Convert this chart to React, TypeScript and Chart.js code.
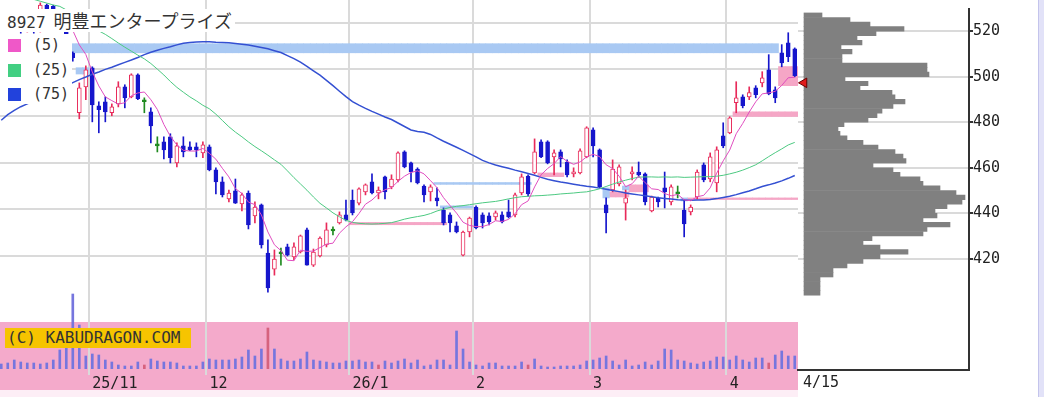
import React, { useEffect, useRef } from "react";
import { Chart, registerables } from "chart.js";

Chart.register(...registerables);

// ---------- data ----------
const tradingDays: number[][] = [
  [14, 15, 16, 17, 20, 21, 22, 23, 24, 27, 28, 29, 30, 31],
  [4, 5, 6, 7, 10, 11, 12, 13, 14, 17, 18, 19, 20, 21, 25, 26, 27, 28],
  [1, 2, 3, 4, 5, 8, 9, 10, 11, 12, 15, 16, 17, 18, 19, 22, 23, 24, 25, 26, 29, 30],
  [5, 6, 7, 8, 9, 13, 14, 15, 16, 19, 20, 21, 22, 23, 26, 27, 28, 29, 30],
  [2, 3, 4, 5, 6, 9, 10, 12, 13, 16, 17, 18, 19, 20, 24, 25, 26, 27],
  [2, 3, 4, 5, 6, 9, 10, 11, 12, 13, 16, 17, 18, 19, 23, 24, 25, 26, 27, 30, 31],
  [1, 2, 3, 6, 7, 8, 9, 10, 13, 14, 15],
];
const monthNums = [10, 11, 12, 1, 2, 3, 4];
const monthTickLabels = ["", "25/11", "12", "26/1", "2", "3", "4"];

const opens = [
  522, 520, 524, 521, 517, 522, 516.5, 527.5, 527, 520.5, 522, 507,
  481.4, 492.5, 500.7, 484.4, 486.1, 481.4, 485.2, 492.5, 488.2, 497.7, 486.1, 481.8,
  467.2, 468.9, 471.1, 459.9, 467.2, 466.8, 466.8, 464.2, 466.8, 456.9, 451.8, 444.5,
  447.9, 442.3, 447.0, 437.2, 441.9, 421.3, 414.4, 420.9, 423.9, 419.6, 421.7, 431.2,
  416.1, 420.0, 424.7, 430.7, 434.2, 437.6, 444.0, 442.7, 447.5, 451.8, 447.0, 453.9,
  449.6, 452.6, 464.6, 459.9, 457.3, 450.0, 447.5, 444.9, 439.7, 437.6, 432.9, 420.4,
  430.3, 441.0, 437.6, 437.2, 436.7, 437.6, 438.9, 437.6, 447.0, 454.3, 455.6, 468.9,
  468.9, 462.5, 464.6, 460.3, 455.2, 455.6, 462.5, 474.1, 465.5, 441.9, 448.3, 450.9,
  442.7, 455.2, 456.0, 455.2, 439.3, 444.9, 449.2, 443.2, 446.6, 439.7, 438.9, 445.3,
  459.1, 453.0, 451.3, 471.5, 472.8, 485.7, 488.2, 488.2, 492.1, 494.2, 499.8, 491.2,
  507.1, 511.4, 508.8,
];
const highs = [
  525, 525, 525.5, 524, 523, 524, 528.5, 528, 527.5, 524, 523, 507.5,
  494.2, 501.5, 501.1, 486.1, 488.2, 485.2, 494.7, 493.4, 498.1, 498.1, 487.8, 483.5,
  471.1, 471.1, 472.4, 468.5, 471.1, 468.9, 468.5, 468.9, 467.6, 457.8, 453.9, 448.3,
  453.0, 447.0, 447.9, 443.2, 442.3, 426.9, 422.6, 423.4, 425.1, 425.6, 429.0, 432.0,
  423.0, 428.2, 434.2, 432.5, 438.9, 444.0, 448.3, 449.2, 450.9, 455.2, 449.6, 454.3,
  454.8, 464.6, 465.1, 460.3, 457.8, 450.5, 450.5, 449.2, 440.6, 438.5, 434.6, 430.7,
  436.7, 441.5, 438.5, 438.5, 439.3, 438.9, 444.0, 447.0, 455.2, 454.8, 470.2, 469.8,
  469.4, 465.5, 465.5, 461.2, 457.8, 465.9, 475.4, 474.9, 465.9, 444.9, 461.2, 459.1,
  448.3, 458.2, 460.3, 455.6, 445.7, 445.3, 456.0, 450.5, 450.0, 444.0, 441.9, 456.9,
  459.9, 464.2, 466.8, 477.1, 479.7, 494.7, 489.1, 492.5, 493.0, 499.0, 506.3, 492.5,
  510.6, 515.7, 509.2,
];
const lows = [
  518, 518, 519, 515.5, 516, 515.5, 516, 521, 519.5, 517.5, 511, 503.5,
  478.8, 487.0, 477.5, 472.8, 477.5, 480.1, 483.9, 483.5, 487.8, 487.0, 481.4, 468.5,
  464.6, 461.6, 459.9, 458.2, 462.5, 465.1, 462.5, 462.1, 456.5, 446.6, 445.3, 443.2,
  442.5, 439.3, 431.6, 434.2, 423.4, 404.5, 411.8, 416.1, 420.0, 418.3, 421.3, 416.1,
  415.5, 419.6, 423.9, 429.0, 433.7, 435.0, 437.6, 441.9, 446.2, 446.6, 444.5, 444.5,
  448.8, 451.8, 457.8, 451.8, 450.9, 443.2, 443.6, 441.5, 433.3, 430.3, 429.9, 420.0,
  428.2, 431.6, 432.0, 433.3, 435.4, 434.2, 436.3, 436.7, 446.2, 445.7, 455.2, 462.1,
  459.5, 454.8, 458.2, 453.9, 453.9, 455.2, 462.1, 462.5, 449.2, 429.9, 447.5, 450.0,
  435.4, 452.6, 453.9, 441.9, 438.9, 441.0, 440.6, 441.9, 444.9, 428.2, 437.6, 444.5,
  451.8, 451.8, 447.5, 466.4, 472.4, 481.4, 483.5, 487.0, 487.8, 492.5, 489.1, 485.7,
  501.1, 503.3, 496.8,
];
const closes = [
  520, 524, 521, 517.5, 522, 518, 527.5, 523, 520.5, 522, 513, 505,
  492.1, 499.8, 484.8, 482.7, 481.8, 483.9, 492.5, 487.8, 497.7, 487.4, 486.1, 475.8,
  467.2, 465.5, 462.1, 467.2, 464.6, 465.5, 465.5, 467.6, 456.9, 451.8, 446.2, 447.0,
  442.7, 446.2, 433.3, 441.0, 424.7, 406.3, 418.7, 420.9, 420.4, 423.9, 428.6, 416.1,
  421.7, 427.7, 431.2, 430.7, 437.6, 435.4, 438.5, 448.8, 450.5, 447.0, 448.3, 447.5,
  453.0, 464.2, 458.2, 456.0, 451.3, 446.2, 449.6, 443.6, 434.2, 434.2, 430.3, 430.3,
  436.3, 432.0, 434.2, 434.6, 438.5, 434.6, 436.7, 446.2, 453.9, 446.6, 464.6, 462.5,
  459.9, 464.2, 461.6, 454.8, 456.0, 465.1, 474.9, 467.2, 449.6, 438.5, 457.3, 458.2,
  444.9, 456.0, 454.8, 443.2, 445.3, 443.2, 447.5, 449.6, 446.6, 433.7, 441.0, 456.0,
  452.6, 462.5, 465.5, 467.2, 479.2, 487.8, 484.4, 490.0, 489.1, 496.4, 489.5, 487.8,
  502.8, 505.4, 497.3,
];

const ma5 = [
  520.5, 521.0, 521.5, 521.0, 520.9, 520.5, 521.2, 521.6, 522.2, 522.2, 521.2, 516.7,
  510.5, 506.4, 498.9, 492.9, 488.2, 486.6, 485.1, 485.7, 488.7, 489.9, 490.3, 487.0,
  482.8, 476.4, 471.3, 467.6, 465.3, 465.0, 465.0, 466.1, 464.0, 461.5, 457.6, 453.9,
  448.9, 446.8, 443.1, 442.0, 437.6, 430.3, 424.8, 422.3, 418.2, 418.0, 422.5, 422.0,
  422.1, 423.6, 425.1, 425.5, 429.8, 432.5, 434.7, 438.2, 442.2, 444.0, 446.6, 448.4,
  449.3, 452.0, 454.2, 455.8, 456.5, 455.2, 452.3, 449.3, 445.0, 441.6, 438.4, 434.5,
  433.1, 432.6, 432.6, 433.5, 435.1, 434.8, 435.7, 438.1, 442.0, 443.6, 449.6, 454.8,
  457.5, 459.6, 462.6, 460.6, 459.3, 460.3, 462.5, 463.6, 462.6, 459.1, 457.5, 454.2,
  449.7, 451.0, 454.2, 451.4, 448.8, 448.5, 446.8, 445.8, 446.4, 444.1, 443.7, 445.4,
  446.0, 449.2, 455.5, 460.8, 465.4, 472.4, 476.8, 481.7, 486.1, 489.5, 489.9, 490.6,
  493.1, 496.4, 496.6,
];
const ma25 = [
  533.0, 532.5, 532.0, 531.3, 530.6, 530.0, 529.2, 528.4, 527.6, 527.0, 525.5, 523.8,
  521.8, 519.9, 518.2, 516.5, 515.0, 513.2, 511.3, 509.5, 507.8, 506.1, 504.5, 502.5,
  500.1, 497.6, 494.8, 492.3, 490.2, 488.2, 486.5, 484.6, 483.1, 480.8, 478.1, 475.4,
  473.1, 471.1, 468.9, 466.9, 465.1, 463.2, 461.2, 459.3, 456.5, 453.6, 450.9, 448.2,
  445.3, 442.6, 440.6, 438.5, 436.8, 435.3, 434.4, 434.0, 433.8, 433.7, 433.8, 434.0,
  434.3, 435.0, 435.8, 436.4, 436.9, 437.4, 438.2, 439.3, 440.1, 440.8, 441.3, 441.6,
  442.0, 442.4, 442.8, 443.1, 443.4, 443.9, 444.5, 445.0, 445.4, 445.6, 445.8, 445.9,
  446.1, 446.3, 446.6, 446.8, 447.0, 447.3, 447.5, 448.1, 448.8, 449.8, 450.8, 451.7,
  452.5, 453.2, 453.8, 453.9, 453.9, 453.8, 453.9, 453.8, 453.9, 453.7, 453.8, 453.9,
  454.0, 454.0, 454.2, 454.6, 455.2, 455.9, 456.8, 457.9, 459.1, 460.8, 462.6, 464.3,
  465.9, 467.6, 468.7,
];
const ma75 = [
  478.2, 480.6, 482.4, 484.0, 485.2, 486.4, 487.6, 489.0, 490.4, 491.8, 493.0, 494.3,
  495.6, 496.7, 497.9, 498.9, 500.0, 500.9, 502.0, 503.0, 504.0, 505.1, 506.3, 507.3,
  508.2, 509.0, 509.7, 510.5, 511.2, 511.5, 511.7, 511.8, 511.8, 511.6, 511.5, 511.4,
  511.1, 510.8, 510.4, 509.9, 509.4, 508.8, 508.0, 507.2, 505.9, 504.6, 503.1, 501.3,
  499.4, 497.5, 495.3, 493.0, 490.6, 488.3, 486.2, 484.7, 483.3, 482.0, 480.8, 479.6,
  478.5, 477.0, 475.5, 474.0, 473.4, 473.0, 472.1, 470.6, 469.2, 467.9, 466.6, 465.3,
  463.9, 462.5, 461.0, 459.9, 459.0, 458.3, 457.6, 456.8, 456.1, 455.4, 454.6, 453.7,
  452.9, 452.3, 451.7, 451.3, 450.8, 450.3, 449.9, 449.6, 449.1, 448.6, 448.1, 447.6,
  447.0, 446.6, 446.2, 445.8, 445.4, 445.0, 444.7, 444.4, 444.1, 444.0, 443.9, 444.0,
  444.0, 444.2, 444.6, 445.1, 445.6, 446.3, 447.1, 447.9, 448.8, 449.8, 450.5, 451.3,
  452.2, 453.3, 454.5,
];

const volume = [
  5, 6, 9, 7, 6, 6, 5, 6, 9, 19, 23, 75,
  44, 13, 15, 14, 9, 7, 4, 3, 3, 7, 4, 10,
  8, 7, 7, 6, 3, 3, 3, 7, 10, 9, 9, 9,
  10, 12, 19, 13, 20, 41, 20, 10, 8, 8, 10, 17,
  9, 8, 7, 6, 6, 8, 8, 9, 7, 7, 4, 8,
  6, 8, 10, 6, 9, 3, 4, 9, 9, 4, 38, 20,
  7, 4, 3, 6, 6, 3, 3, 3, 7, 4, 10, 3,
  2, 2, 3, 3, 3, 4, 8, 9, 11, 13, 8, 4,
  9, 3, 4, 7, 4, 8, 20, 19, 9, 8, 6, 5,
  7, 8, 12, 12, 9, 13, 9, 7, 11, 11, 6, 14,
  18, 13, 13,
];
const redVolumeIdx = [22, 41, 58, 81, 118];

const profilePrices = [
  405, 407, 409, 411, 413, 415, 417, 419, 421, 423, 425, 427, 429, 431, 433, 435,
  437, 439, 441, 443, 445, 447, 449, 451, 453, 455, 457, 459, 461, 463, 465, 467,
  469, 471, 473, 475, 477, 479, 481, 483, 485, 487, 489, 491, 493, 495, 497, 499,
  501, 503, 505, 507, 509, 511, 513, 515, 517, 519, 521, 523, 525, 527,
];
const profileVolume = [
  16, 16, 16, 16, 29, 29, 43, 59, 76, 104, 76, 59, 68, 119, 123, 146,
  119, 133, 131, 143, 158, 161, 152, 136, 119, 116, 96, 89, 69, 102, 99, 91,
  74, 59, 43, 36, 34, 40, 64, 73, 78, 89, 101, 91, 88, 56, 64, 41,
  125, 123, 123, 38, 38, 48, 37, 58, 53, 72, 100, 66, 46, 18,
];

const yTicks = [420, 440, 460, 480, 500, 520];

// price gaps (窓)
const gapLo = [507.1, 498.0, 433.4, 450.7, 440.6, 454.0, 444.9, 445.3, 448.3, 447.5, 443.6, 444.2, 479.8, 493.0];
const gapHi = [511.0, 500.7, 434.4, 451.5, 441.5, 455.6, 449.2, 447.5, 450.0, 450.5, 444.9, 444.9, 481.8, 501.2];
const gapFrom = [11, 12, 54, 67, 68, 83, 93, 94, 96, 97, 105, 106, 113, 120];
const gapTo = [119, 13, 68, 81, 72, 86, 93, 96, 96, 99, 105, 122, 122, 122];
const gapUp = [false, false, true, false, false, true, false, true, false, true, false, true, true, true];

// ---------- derived ----------
const labels: string[] = [];
const tickText: string[] = [];
const monthStart = new Set<number>();
tradingDays.forEach((days, m) =>
  days.forEach((d, k) => {
    if (k === 0 && monthTickLabels[m]) {
      monthStart.add(labels.length);
      tickText.push(monthTickLabels[m]);
    } else tickText.push("");
    labels.push(`${monthNums[m]}/${d}`);
  })
);

const PRICE_MAX = 529.73;
const PRICE_MIN = 371.14;
const GRID = "#dadada";
const RED = "#e82a5a";
const BLUE = "#1616cc";
const GREEN = "#1f8a1f";
const MONO = "'DejaVu Sans Mono', monospace";

const candleColor = opens.map((o, i) => (closes[i] > o ? RED : closes[i] < o ? BLUE : GREEN));
const bodyFill = opens.map((o, i) => (closes[i] > o ? "#ffffff" : candleColor[i]));

export default function App() {
  const mainRef = useRef<HTMLCanvasElement>(null);
  const volRef = useRef<HTMLCanvasElement>(null);
  const profRef = useRef<HTMLCanvasElement>(null);

  useEffect(() => {
    Chart.defaults.font.family = MONO;
    const charts: any[] = [];
    const monthGrid = (c: any) => (monthStart.has(c.index) ? GRID : "rgba(0,0,0,0)");

    const bandSets = gapLo.map((lo, g) => ({
      type: "bar",
      data: labels.map((_, i) => (i >= gapFrom[g] && i <= gapTo[g] ? [lo, gapHi[g]] : null)),
      backgroundColor: gapUp[g] ? "#f5a6c6" : "#a9c9f3",
      barPercentage: 1,
      categoryPercentage: 1,
      grouped: false,
      order: 10,
    }));

    charts.push(
      new Chart(mainRef.current as any, {
        type: "bar",
        data: {
          labels,
          datasets: [
            ...bandSets,
            { type: "line", label: "(5)", data: ma5, borderColor: "#e04ec0", borderWidth: 1, pointRadius: 0, tension: 0, order: 1 },
            { type: "line", label: "(25)", data: ma25, borderColor: "#4cc981", borderWidth: 1, pointRadius: 0, tension: 0, order: 1 },
            { type: "line", label: "(75)", data: ma75, borderColor: "#3450d2", borderWidth: 1.5, pointRadius: 0, tension: 0, order: 1 },
            {
              type: "bar",
              data: lows.map((l, i) => [l, highs[i]]),
              backgroundColor: candleColor,
              barThickness: 1,
              grouped: false,
              order: 3,
            },
            {
              type: "bar",
              data: opens.map((o, i) => [o, closes[i]]),
              backgroundColor: bodyFill,
              borderColor: candleColor,
              borderWidth: 1,
              borderSkipped: false,
              barThickness: 4,
              minBarLength: 2,
              grouped: false,
              order: 2,
            },
          ] as any,
        },
        options: {
          animation: false,
          responsive: false,
          maintainAspectRatio: false,
          layout: { padding: 0 },
          plugins: { legend: { display: false }, tooltip: { enabled: false } },
          scales: {
            x: {
              offset: true,
              ticks: { display: false, autoSkip: false },
              grid: { offset: true, color: monthGrid, lineWidth: 2, drawTicks: false },
              border: { display: false },
              afterFit: (s: any) => { s.height = 0; },
            },
            y: {
              min: PRICE_MIN,
              max: PRICE_MAX,
              afterBuildTicks: (s: any) => { s.ticks = yTicks.map((v) => ({ value: v })); },
              ticks: { display: false },
              grid: { color: GRID, lineWidth: 2, drawTicks: false },
              border: { display: false },
              afterFit: (s: any) => { s.width = 0; },
            },
          },
        } as any,
      })
    );

    charts.push(
      new Chart(volRef.current as any, {
        type: "bar",
        data: {
          labels,
          datasets: [
            {
              data: volume,
              backgroundColor: volume.map((_, i) => (redVolumeIdx.includes(i) ? "#d6627e" : "#7676de")),
              barThickness: 2,
            },
          ],
        },
        options: {
          animation: false,
          responsive: false,
          maintainAspectRatio: false,
          layout: { padding: 0 },
          plugins: { legend: { display: false }, tooltip: { enabled: false } },
          scales: {
            x: {
              offset: true,
              ticks: {
                autoSkip: false,
                maxRotation: 0,
                minRotation: 0,
                align: "start",
                padding: 0,
                color: "#222",
                font: { family: MONO, size: 15 },
                callback: (_v: any, i: number) => tickText[i],
              },
              grid: { offset: true, color: monthGrid, tickColor: monthGrid, lineWidth: 2, tickLength: 6 },
              border: { display: false },
              afterFit: (s: any) => { s.height = 21; },
            },
            y: { display: false, min: 0, max: 84 },
          },
        } as any,
      })
    );

    charts.push(
      new Chart(profRef.current as any, {
        type: "bar",
        data: {
          datasets: [
            {
              type: "scatter",
              data: [{ x: 0, y: closes[closes.length - 1] }],
              pointStyle: "triangle",
              pointRotation: -90,
              pointRadius: 5.5,
              pointBackgroundColor: "#e01c1c",
              pointBorderColor: "#6a0000",
              pointBorderWidth: 1,
              backgroundColor: "#e01c1c",
              borderColor: "#6a0000",
              clip: false,
              order: 0,
            },
            {
              type: "bar",
              indexAxis: "y",
              data: profilePrices.map((p, i) => ({ x: profileVolume[i], y: p })),
              backgroundColor: "#808080",
              barPercentage: 1,
              categoryPercentage: 1,
              order: 1,
            },
          ] as any,
        },
        options: {
          indexAxis: "y",
          animation: false,
          responsive: false,
          maintainAspectRatio: false,
          layout: { padding: { left: 10, right: 0, top: 0, bottom: 0 } },
          plugins: { legend: { display: false }, tooltip: { enabled: false } },
          scales: {
            x: {
              type: "linear",
              min: -6,
              max: 165,
              ticks: { display: false },
              grid: { display: false },
              border: { display: true, color: "#333", width: 2 },
              afterFit: (s: any) => { s.height = 27; },
            },
            y: {
              type: "linear",
              position: "right",
              min: PRICE_MIN,
              max: PRICE_MAX,
              offset: false,
              afterBuildTicks: (s: any) => { s.ticks = yTicks.map((v) => ({ value: v })); },
              ticks: { color: "#222", padding: 0, font: { family: MONO, size: 15 } },
              grid: { color: GRID, lineWidth: 2, tickColor: "#333", tickLength: 4, offset: false },
              border: { display: true, color: "#333", width: 2 },
              afterFit: (s: any) => { s.width = 75; },
            },
          },
        } as any,
      })
    );

    return () => charts.forEach((c) => c.destroy());
  }, []);

  const legendItems = [
    { color: "#ef58c8", text: "(5)" },
    { color: "#42cf82", text: "(25)" },
    { color: "#2242dc", text: "(75)" },
  ];

  return (
    <div style={{ position: "absolute", left: 0, top: 0, width: 1044, height: 397, background: "#fff", overflow: "hidden" }}>
      <canvas ref={mainRef} width={800} height={370} style={{ position: "absolute", left: -2, top: 0, width: 800, height: 370 }} />
      <div style={{ position: "absolute", left: 0, top: 322, width: 798, height: 68, background: "#f4aacb" }} />
      <div style={{ position: "absolute", left: 0, top: 390, width: 798, height: 7, background: "#fdeef6" }} />
      <canvas ref={volRef} width={800} height={105} style={{ position: "absolute", left: -2, top: 285, width: 800, height: 105 }} />
      <canvas ref={profRef} width={256} height={397} style={{ position: "absolute", left: 788, top: 0, width: 256, height: 397 }} />
      <div
        style={{
          position: "absolute", left: 5, top: 328, width: 186, height: 20, background: "#f6c400",
          fontFamily: MONO, fontSize: 16, lineHeight: "20px", color: "#333", paddingLeft: 2, boxSizing: "border-box", whiteSpace: "nowrap",
        }}
      >
        (C) KABUDRAGON.COM
      </div>
      <div style={{ position: "absolute", left: 803, top: 373, fontFamily: MONO, fontSize: 15, lineHeight: "18px", color: "#222" }}>4/15</div>
      <div
        style={{
          position: "absolute", left: 0, top: 9, width: 235, height: 23, background: "#fff",
          lineHeight: "23px", color: "#333", whiteSpace: "nowrap", paddingLeft: 7, boxSizing: "border-box", overflow: "hidden",
        }}
      >
        <span style={{ fontFamily: MONO, fontSize: 16 }}>8927</span>
        <span style={{ fontFamily: "'Noto Sans CJK JP', sans-serif", fontSize: 18, marginLeft: 8 }}>明豊エンタープライズ</span>
      </div>
      <div style={{ position: "absolute", left: 0, top: 34, width: 72, height: 70, background: "#fff" }}>
        {legendItems.map((it, k) => (
          <div key={k} style={{ position: "absolute", left: 0, top: 5 + k * 24.5, height: 14, width: 72 }}>
            <div style={{ position: "absolute", left: 8, top: 0, width: 13, height: 13, background: it.color }} />
            <div style={{ position: "absolute", left: 33, top: -2, fontFamily: MONO, fontSize: 15, lineHeight: "17px", color: "#333" }}>{it.text}</div>
          </div>
        ))}
      </div>
      <div style={{ position: "absolute", left: 1038, top: 0, width: 6, height: 397, background: "#e2e2f8", borderLeft: "1px solid #c4c4ec", boxSizing: "border-box" }} />
    </div>
  );
}
